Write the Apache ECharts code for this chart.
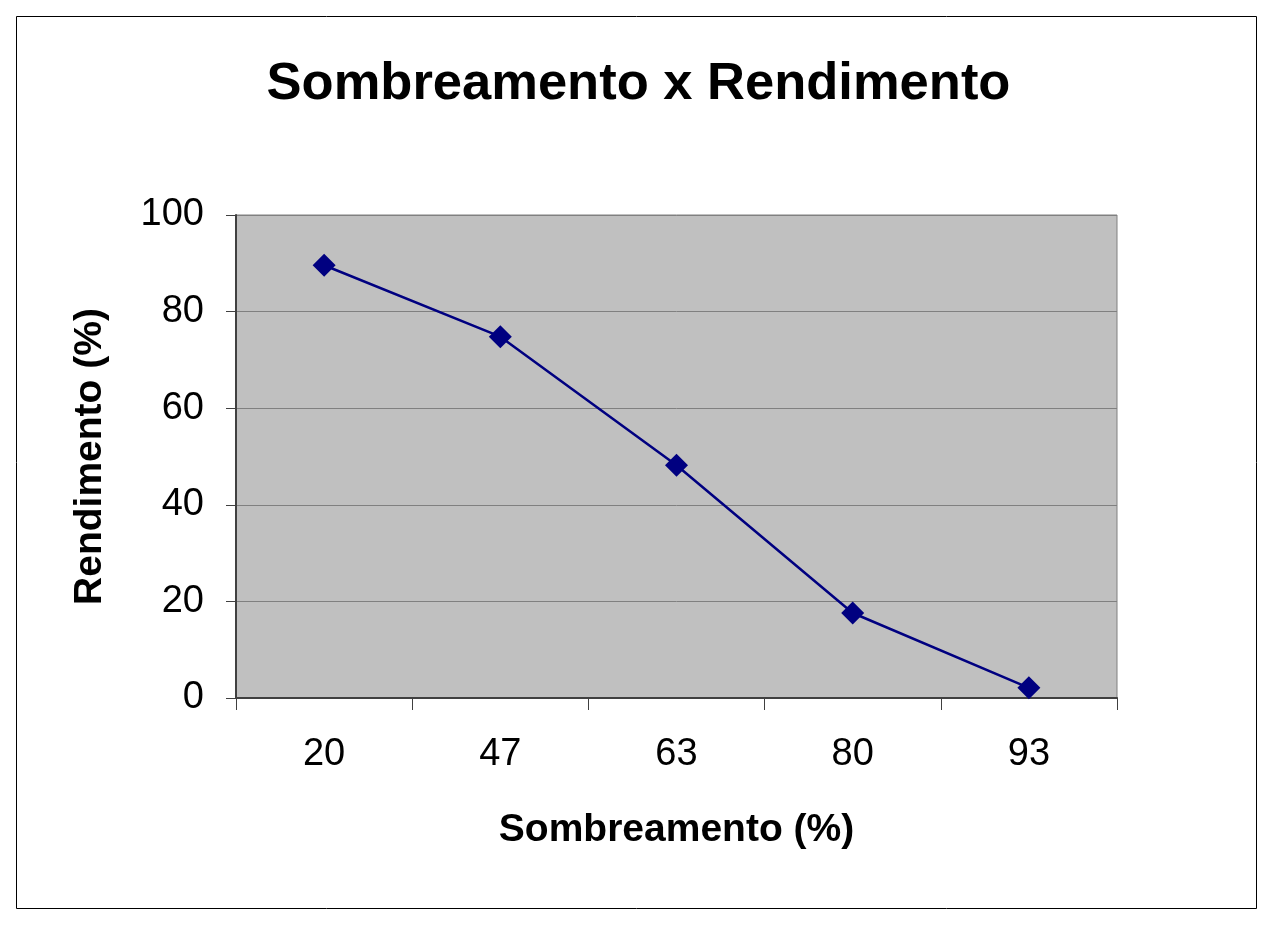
<!DOCTYPE html>
<html><head><meta charset="utf-8">
<script src="https://cdn.jsdelivr.net/npm/echarts@6/dist/echarts.min.js"></script>
<style>html,body{margin:0;padding:0;background:#fff}#c{width:1277px;height:925px}</style>
</head><body><div id="c"></div>
<script>
const categories = ['20', '47', '63', '80', '93'];
const rendimento = [89.6, 74.8, 48.2, 17.6, 2.1];
const yTicks = [0, 20, 40, 60, 80, 100];

const chart = echarts.init(document.getElementById('c'), null, {renderer: 'canvas'});
const font = '"Liberation Sans", Arial, sans-serif';
chart.setOption({
  animation: false,
  backgroundColor: '#ffffff',
  title: {
    text: 'Sombreamento x Rendimento',
    left: 'center', top: 53,
    textStyle: {fontFamily: font, fontWeight: 'bold', fontSize: 52.5, color: '#000'}
  },
  graphic: [{
    type: 'rect', shape: {x: 16.5, y: 16.5, width: 1240, height: 892},
    style: {fill: 'none', stroke: '#000', lineWidth: 1}, silent: true, z: -1
  }],
  grid: {left: 236, top: 215, right: 160, bottom: 227, show: true,
    backgroundColor: '#C0C0C0', borderColor: '#808080', borderWidth: 1},
  xAxis: {
    type: 'category', data: categories, boundaryGap: true,
    name: 'Sombreamento (%)', nameLocation: 'middle', nameGap: 113,
    nameTextStyle: {fontFamily: font, fontWeight: 'bold', fontSize: 39, color: '#000'},
    axisLine: {lineStyle: {color: '#404040', width: 2}},
    axisTick: {show: true, length: 12, lineStyle: {color: '#404040', width: 1}},
    axisLabel: {fontFamily: font, fontSize: 38, color: '#000', margin: 38},
    splitLine: {show: false}
  },
  yAxis: {
    type: 'value', min: yTicks[0], max: yTicks[yTicks.length - 1], interval: 20,
    name: 'Rendimento (%)', nameLocation: 'middle', nameGap: 126, nameRotate: 90,
    nameTextStyle: {fontFamily: font, fontWeight: 'bold', fontSize: 39, color: '#000'},
    axisLine: {show: true, lineStyle: {color: '#404040', width: 2}},
    axisTick: {show: true, length: 10, lineStyle: {color: '#404040', width: 1}},
    axisLabel: {fontFamily: font, fontSize: 38, color: '#000', margin: 32},
    splitLine: {show: true, lineStyle: {color: '#808080', width: 1}}
  },
  series: [{
    type: 'line', data: rendimento,
    symbol: 'diamond', symbolSize: 23,
    itemStyle: {color: '#000080'},
    lineStyle: {color: '#000080', width: 2.5}
  }]
});
</script></body></html>
